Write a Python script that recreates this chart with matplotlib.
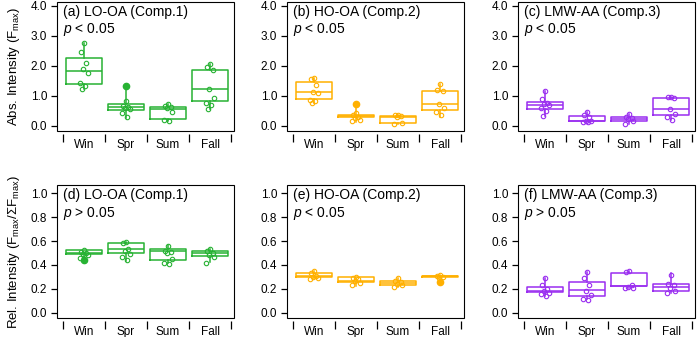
import matplotlib
matplotlib.use("Agg")
import matplotlib.pyplot as plt
from matplotlib.patches import Rectangle
from matplotlib.ticker import FixedLocator, FormatStrFormatter

plt.rcParams['font.family'] = ['Liberation Sans', 'DejaVu Sans']
plt.rcParams['mathtext.fontset'] = 'custom'
plt.rcParams['mathtext.rm'] = 'Liberation Sans'
plt.rcParams['mathtext.it'] = 'Liberation Sans:italic'
plt.rcParams['mathtext.bf'] = 'Liberation Sans:bold'

seasons = ["Win", "Spr", "Sum", "Fall"]

# ---- (a) LO-OA absolute ----
a_q1 = [1.40, 0.53, 0.22, 0.84]
a_med = [1.82, 0.62, 0.58, 1.22]
a_q3 = [2.28, 0.72, 0.64, 1.87]
a_wlo = [1.22, 0.28, 0.18, 0.56]
a_whi = [2.76, 1.34, 0.72, 2.05]
a_out = [[], [1.34], [], []]
a_pts = [[2.76, 2.48, 2.11, 1.89, 1.78, 1.42, 1.33, 1.22],
         [0.83, 0.66, 0.62, 0.60, 0.58, 0.42, 0.29],
         [0.72, 0.68, 0.63, 0.60, 0.47, 0.20, 0.18],
         [2.05, 1.95, 1.88, 1.22, 0.92, 0.78, 0.70, 0.58]]

# ---- (b) HO-OA absolute ----
b_q1 = [0.89, 0.29, 0.11, 0.52]
b_med = [1.12, 0.33, 0.29, 0.72]
b_q3 = [1.46, 0.37, 0.32, 1.15]
b_wlo = [0.76, 0.14, 0.08, 0.31]
b_whi = [1.59, 0.74, 0.37, 1.40]
b_out = [[], [0.74], [], []]
b_pts = [[1.59, 1.55, 1.38, 1.13, 1.10, 0.88, 0.84, 0.76],
         [0.44, 0.35, 0.31, 0.25, 0.20, 0.15],
         [0.37, 0.35, 0.32, 0.30, 0.10, 0.08],
         [1.40, 1.20, 1.17, 0.72, 0.60, 0.45, 0.35]]

# ---- (c) LMW-AA absolute ----
c_q1 = [0.58, 0.16, 0.18, 0.37]
c_med = [0.70, 0.18, 0.22, 0.56]
c_q3 = [0.81, 0.33, 0.29, 0.92]
c_wlo = [0.33, 0.12, 0.07, 0.20]
c_whi = [1.17, 0.46, 0.40, 0.97]
c_out = [[], [], [], []]
c_pts = [[1.17, 0.90, 0.78, 0.73, 0.70, 0.60, 0.50, 0.33],
         [0.46, 0.35, 0.30, 0.17, 0.15, 0.13, 0.12],
         [0.40, 0.29, 0.26, 0.22, 0.15, 0.07],
         [0.97, 0.95, 0.92, 0.57, 0.40, 0.30, 0.20]]

# ---- (d) LO-OA relative ----
d_q1 = [0.494, 0.497, 0.440, 0.475]
d_med = [0.500, 0.530, 0.517, 0.497]
d_q3 = [0.522, 0.586, 0.530, 0.520]
d_wlo = [0.440, 0.436, 0.414, 0.425]
d_whi = [0.525, 0.590, 0.567, 0.530]
d_out = [[0.44], [], [], []]
d_pts = [[0.525, 0.51, 0.50, 0.49, 0.48, 0.46],
         [0.59, 0.58, 0.53, 0.52, 0.49, 0.47, 0.44],
         [0.56, 0.52, 0.51, 0.50, 0.45, 0.42, 0.41],
         [0.53, 0.52, 0.50, 0.48, 0.47, 0.42]]

# ---- (e) HO-OA relative ----
e_q1 = [0.300, 0.260, 0.236, 0.298]
e_med = [0.310, 0.270, 0.250, 0.305]
e_q3 = [0.330, 0.297, 0.270, 0.312]
e_wlo = [0.280, 0.225, 0.220, 0.260]
e_whi = [0.350, 0.300, 0.290, 0.320]
e_out = [[], [], [], [0.26]]
e_pts = [[0.35, 0.33, 0.31, 0.30, 0.29, 0.28],
         [0.30, 0.29, 0.28, 0.27, 0.25, 0.23],
         [0.29, 0.27, 0.26, 0.24, 0.23, 0.22],
         [0.32, 0.31, 0.30, 0.29]]

# ---- (f) LMW-AA relative ----
f_q1 = [0.172, 0.145, 0.222, 0.186]
f_med = [0.183, 0.190, 0.225, 0.214]
f_q3 = [0.214, 0.258, 0.330, 0.240]
f_wlo = [0.140, 0.114, 0.210, 0.170]
f_whi = [0.290, 0.344, 0.350, 0.330]
f_out = [[], [], [], []]
f_pts = [[0.29, 0.23, 0.20, 0.18, 0.17, 0.16, 0.14],
         [0.34, 0.29, 0.23, 0.18, 0.15, 0.12, 0.11],
         [0.35, 0.34, 0.23, 0.22, 0.21, 0.21],
         [0.32, 0.24, 0.23, 0.21, 0.18, 0.17]]

titles = ["(a) LO-OA (Comp.1)", "(b) HO-OA (Comp.2)", "(c) LMW-AA (Comp.3)",
          "(d) LO-OA (Comp.1)", "(e) HO-OA (Comp.2)", "(f) LMW-AA (Comp.3)"]
ptexts = ["< 0.05", "< 0.05", "< 0.05", "> 0.05", "< 0.05", "> 0.05"]

GREEN = "#27b233"
ORANGE = "#ffb000"
PURPLE = "#9a2ef0"
colors = [GREEN, ORANGE, PURPLE, GREEN, ORANGE, PURPLE]

panels = [
    (a_q1, a_med, a_q3, a_wlo, a_whi, a_out, a_pts),
    (b_q1, b_med, b_q3, b_wlo, b_whi, b_out, b_pts),
    (c_q1, c_med, c_q3, c_wlo, c_whi, c_out, c_pts),
    (d_q1, d_med, d_q3, d_wlo, d_whi, d_out, d_pts),
    (e_q1, e_med, e_q3, e_wlo, e_whi, e_out, e_pts),
    (f_q1, f_med, f_q3, f_wlo, f_whi, f_out, f_pts),
]

JIT = [0.0, -0.07, 0.06, -0.03, 0.09, -0.1, 0.03, -0.05]

W, H = 700, 337
fig = plt.figure(figsize=(7.0, 3.37), dpi=100)

lefts = [57, 287, 518]
width = 177
rows = [(2, 131), (185, 318)]

for i, (q1, med, q3, wlo, whi, out, pts) in enumerate(panels):
    r, c = divmod(i, 3)
    top, bot = rows[r]
    ax = fig.add_axes([lefts[c] / W, (H - bot) / H, width / W, (bot - top) / H])
    col = colors[i]
    stats = []
    for k in range(4):
        stats.append(dict(med=med[k], q1=q1[k], q3=q3[k], whislo=wlo[k],
                          whishi=whi[k], fliers=out[k], label=seasons[k]))
    ax.bxp(stats, positions=[1, 2, 3, 4], widths=0.86, showfliers=True,
           patch_artist=False, manage_ticks=False,
           boxprops=dict(color=col, lw=1.1),
           medianprops=dict(color=col, lw=1.1),
           whiskerprops=dict(color=col, lw=1.1),
           capprops=dict(color=col, lw=0),
           flierprops=dict(marker='o', markerfacecolor=col, markeredgecolor=col,
                           markersize=4.5, linestyle='none'))
    for k in range(4):
        xs = [k + 1 + JIT[j % len(JIT)] for j in range(len(pts[k]))]
        ax.plot(xs, pts[k], 'o', mfc='none', mec=col, ms=3.2, mew=0.8, ls='none')

    ax.set_xlim(0.36, 4.57)
    if r == 0:
        ax.set_ylim(-0.167, 4.133)
        ax.yaxis.set_major_locator(FixedLocator([0, 1, 2, 3, 4]))
        ax.yaxis.set_major_formatter(FormatStrFormatter('%.1f'))
    else:
        ax.set_ylim(-0.042, 1.067)
        ax.yaxis.set_major_locator(FixedLocator([0, 0.2, 0.4, 0.6, 0.8, 1.0]))
        ax.yaxis.set_major_formatter(FormatStrFormatter('%.1f'))

    ax.xaxis.set_major_locator(FixedLocator([1, 2, 3, 4]))
    ax.set_xticklabels(seasons)
    ax.xaxis.set_minor_locator(FixedLocator([0.5, 1.5, 2.5, 3.5, 4.5]))
    ax.tick_params(axis='x', which='major', length=0, pad=3.5, labelsize=8.5)
    ax.tick_params(axis='x', which='minor', length=5.5, width=0.9, direction='out')
    ax.tick_params(axis='y', which='major', length=4.5, width=0.9, direction='out',
                   pad=2.5, labelsize=8.5)

    for s in ['top', 'right', 'left', 'bottom']:
        ax.spines[s].set_visible(False)
    ax.spines['bottom'].set_position(('outward', 2))
    ax.add_patch(Rectangle((0, 0), 1, 1, transform=ax.transAxes, fill=False,
                           ec='black', lw=0.8, clip_on=False, zorder=5))

    ax.text(0.035, 0.975, titles[i], transform=ax.transAxes, ha='left', va='top',
            fontsize=10)
    ax.text(0.035, 0.85, "$p$ " + ptexts[i], transform=ax.transAxes, ha='left',
            va='top', fontsize=10)

    if c == 0:
        if r == 0:
            ax.set_ylabel("Abs. Intensity (F$_{\\mathrm{max}}$)", fontsize=9.5, labelpad=6)
        else:
            ax.set_ylabel("Rel. Intensity (F$_{\\mathrm{max}}$/\u03a3F$_{\\mathrm{max}}$)",
                          fontsize=9.5, labelpad=6)

fig.savefig("out.png", dpi=100)
